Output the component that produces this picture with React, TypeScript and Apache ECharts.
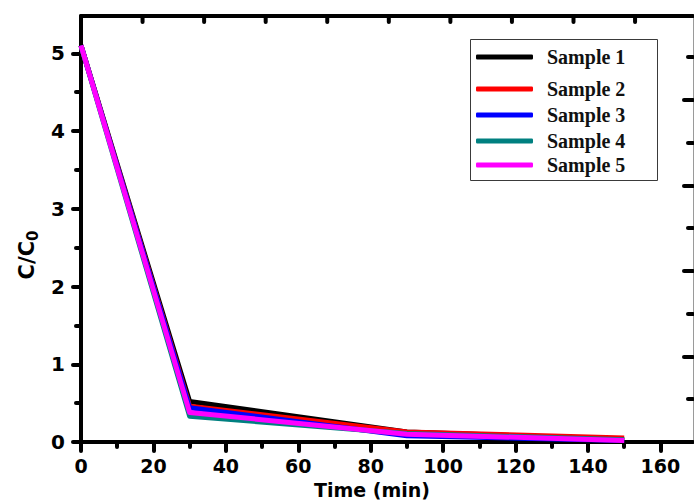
import React, { useEffect, useRef } from "react";
import * as echarts from "echarts";

// Sampling times (min)
const times = [0, 30, 90, 150];

// C/C0 for each sample
const sample1 = [5.1, 0.52, 0.13, 0.03];
const sample2 = [5.1, 0.46, 0.13, 0.05];
const sample3 = [5.1, 0.44, 0.08, 0.02];
const sample4 = [5.1, 0.33, 0.11, 0.03];
const sample5 = [5.1, 0.38, 0.1, 0.02];

const seriesNames = ["Sample 1", "Sample 2", "Sample 3", "Sample 4", "Sample 5"];
const seriesColors = ["#000000", "#ff0000", "#0000ff", "#008080", "#ff00ff"];
const seriesValues = [sample1, sample2, sample3, sample4, sample5];

// Tick positions (bottom / left frame)
const xMajorTicks = [0, 20, 40, 60, 80, 100, 120, 140, 160];
const xMinorTicks = [10, 30, 50, 70, 90, 110, 130, 150];
const yMajorTicks = [0, 1, 2, 3, 4, 5];
const yMinorTicks = [0.5, 1.5, 2.5, 3.5, 4.5];
// Tick positions (top / right frame)
const topTicks = [17, 34, 51, 68, 85, 102, 119, 136, 153];
const rightMajorTicks = [1.1, 2.2, 3.3, 4.4];
const rightMinorTicks = [0.55, 1.65, 2.75, 3.85, 4.95];

// Legend row centres (px)
const legendRows = [57, 89, 115, 141, 165];

const X_MAX = 169;
const Y_MAX = 5.48;

const GRID = { left: 81, top: 16, width: 612, height: 426 };

const AXIS_FONT = "'DejaVu Sans', sans-serif";

export default function App() {
  const ref = useRef<HTMLDivElement>(null);

  useEffect(() => {
    if (!ref.current) return;
    const chart = echarts.init(ref.current, null, { renderer: "svg" });

    const hidden = { show: false };
    const noLine = { show: false, onZero: false };
    const frameLine = (color: string, width: number) => ({
      show: true,
      onZero: false,
      lineStyle: { color, width },
    });
    const labelStyle = {
      fontFamily: AXIS_FONT,
      fontWeight: "bold" as const,
      color: "#000",
    };
    const tickLine = { color: "#000", width: 4, cap: "round" };

    const xBase = { type: "value", min: 0, max: X_MAX, splitLine: hidden };
    const yBase = { type: "value", min: 0, max: Y_MAX, splitLine: hidden };

    const option: any = {
      animation: false,
      backgroundColor: "#ffffff",
      grid: {
        ...GRID,
        containLabel: false,
        outerBoundsMode: "none",
      },
      xAxis: [
        {
          ...xBase,
          position: "bottom",
          axisLine: frameLine("#000", 4),
          axisTick: { show: true, inside: false, length: 9, customValues: xMajorTicks, lineStyle: tickLine },
          axisLabel: { show: true, customValues: xMajorTicks, margin: 14, fontSize: 19, ...labelStyle },
        },
        {
          ...xBase,
          position: "top",
          axisLine: frameLine("#000", 4),
          axisTick: hidden,
          axisLabel: hidden,
        },
        {
          ...xBase,
          position: "bottom",
          axisLine: noLine,
          axisTick: { show: true, inside: false, length: 5, customValues: xMinorTicks, lineStyle: tickLine },
          axisLabel: hidden,
        },
      ],
      yAxis: [
        {
          ...yBase,
          position: "left",
          axisLine: frameLine("#000", 4),
          axisTick: { show: true, inside: false, length: 8, customValues: yMajorTicks, lineStyle: tickLine },
          axisLabel: { show: true, customValues: yMajorTicks, margin: 16, fontSize: 20, ...labelStyle },
        },
        {
          ...yBase,
          position: "left",
          axisLine: noLine,
          axisTick: { show: true, inside: false, length: 5, customValues: yMinorTicks, lineStyle: tickLine },
          axisLabel: hidden,
        },
        {
          ...yBase,
          position: "right",
          axisLine: frameLine("#9a9a9a", 1),
          axisTick: { show: true, inside: true, length: 9, customValues: rightMajorTicks, lineStyle: tickLine },
          axisLabel: hidden,
        },
        {
          ...yBase,
          position: "right",
          axisLine: noLine,
          axisTick: { show: true, inside: true, length: 5, customValues: rightMinorTicks, lineStyle: tickLine },
          axisLabel: hidden,
        },
      ],
      legend: seriesNames.map((name, i) => ({
        show: true,
        data: [name],
        left: 476,
        top: legendRows[i] - 10,
        padding: 0,
        orient: "horizontal",
        icon: "roundRect",
        itemWidth: 57,
        itemHeight: 5,
        selectedMode: false,
        z: 10,
        textStyle: {
          fontFamily: "'Liberation Serif', serif",
          fontWeight: "bold",
          fontSize: 20,
          lineHeight: 20,
          color: "#111",
          padding: [0, 0, 0, 9],
        },
      })),
      series: seriesNames.map((name, i) => ({
        name,
        type: "line",
        xAxisIndex: 0,
        yAxisIndex: 0,
        data: times.map((t, j) => [t, seriesValues[i][j]]),
        showSymbol: false,
        symbol: "none",
        color: seriesColors[i],
        itemStyle: { color: seriesColors[i] },
        lineStyle: { color: seriesColors[i], width: 5, join: "round" },
        z: 2 + i,
      })),
    };

    chart.setOption(option);

    // Inward ticks on the top frame, placed through the x scale
    let topY = Number(chart.convertToPixel({ yAxisIndex: 0 }, Y_MAX));
    if (!Number.isFinite(topY)) topY = GRID.top;
    const topTickEls = topTicks.map((v) => {
      let px = Number(chart.convertToPixel({ xAxisIndex: 0 }, v));
      if (!Number.isFinite(px)) px = GRID.left + (v / X_MAX) * GRID.width;
      return {
        type: "rect",
        silent: true,
        shape: { x: px - 2, y: topY, width: 4, height: 8, r: 2 },
        style: { fill: "#000" },
        z: 20,
      };
    });

    chart.setOption({
      graphic: [
        {
          type: "rect",
          shape: { x: 470.5, y: 39.5, width: 187, height: 141 },
          style: { fill: "#ffffff", stroke: "#3a3a3a", lineWidth: 1 },
          z: 5,
        },
        {
          type: "text",
          x: 372,
          y: 490,
          style: {
            text: "Time (min)",
            fontFamily: AXIS_FONT,
            fontWeight: "bold",
            fontSize: 19,
            fill: "#000",
            align: "center",
            verticalAlign: "middle",
          },
        },
        {
          type: "text",
          x: 27,
          y: 255,
          rotation: Math.PI / 2,
          style: {
            text: "{a|C/C}{b|0}",
            align: "center",
            verticalAlign: "middle",
            rich: {
              a: {
                fontFamily: AXIS_FONT,
                fontWeight: "bold",
                fontSize: 21,
                lineHeight: 26,
                fill: "#000",
                color: "#000",
                verticalAlign: "middle",
              },
              b: {
                fontFamily: AXIS_FONT,
                fontWeight: "bold",
                fontSize: 15,
                lineHeight: 26,
                fill: "#000",
                color: "#000",
                verticalAlign: "bottom",
              },
            },
          },
        },
        ...topTickEls,
      ],
    });

    return () => chart.dispose();
  }, []);

  return (
    <div
      ref={ref}
      style={{ position: "absolute", left: 0, top: 0, width: 694, height: 500 }}
    />
  );
}
